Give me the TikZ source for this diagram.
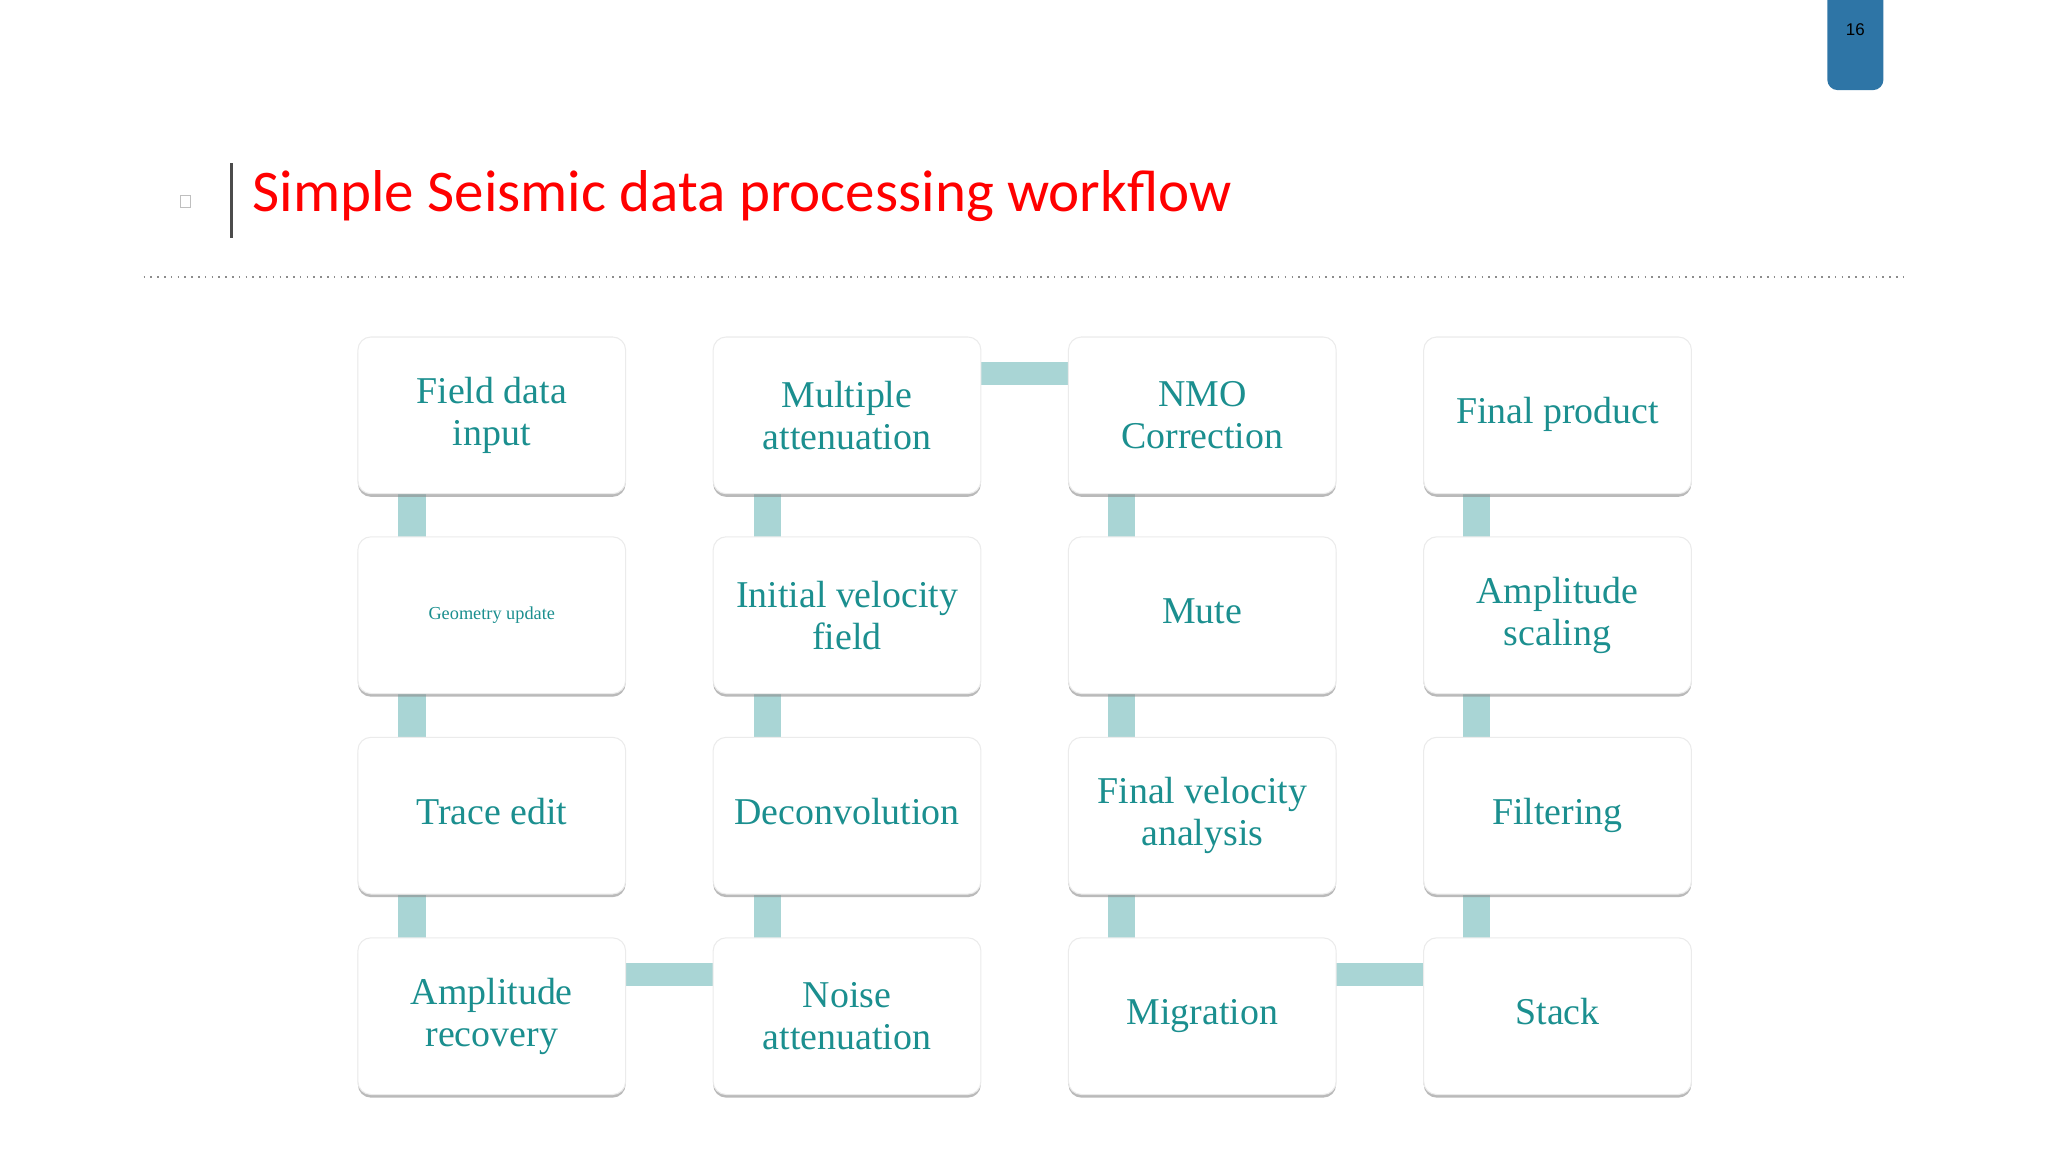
\documentclass[tikz,border=0pt]{standalone}
\usepackage{fontspec}
\setmainfont{Liberation Serif}
\newfontfamily\carl{Carlito}
\newfontfamily\arialf{Liberation Sans}
\usetikzlibrary{shadows}
\definecolor{teal1}{HTML}{1B8F8F}
\definecolor{bar}{HTML}{A9D5D5}
\definecolor{pg}{HTML}{2E75A6}
\begin{document}
\begin{tikzpicture}[x=0.5pt,y=-0.5pt,
 box/.style={draw=black!8,fill=white,rounded corners=5pt,minimum width=102.5pt,minimum height=60pt,
   align=center,text=teal1,font=\fontsize{14.5}{16}\selectfont,
   drop shadow={shadow xshift=0pt,shadow yshift=-1.2pt,fill=black!45,opacity=0.6}},
 vbar/.style={fill=bar,draw=none},
 hbar/.style={fill=bar,draw=none}]
\useasboundingbox (0,0) rectangle (1568,882);
% title area
\fill[pg,rounded corners=4pt] (1399,-10) rectangle (1442,69);
\node[font=\arialf\fontsize{6.5}{7}\selectfont] (pn) at (1420.5,23) {16};
\draw[black!25,line width=0.4pt] (138,150) rectangle (146,159);
\draw[black!70,line width=1.2pt] (177,125) -- (177,182);
\node[anchor=base west,text=red,font=\carl\fontsize{22.6}{25}\selectfont,inner sep=0] (title) at (193,162) {Simple Seismic data processing workflow};
\draw[black!45,dotted,line width=0.6pt] (110,212) -- (1458,212);
% connectors (drawn first)
\foreach \x in {305,577,848,1120}{
  \foreach \y in {378,531,685}{ \fill[vbar] (\x,\y) rectangle (\x+21,\y+33); }}
\fill[hbar] (751,277) rectangle (818,295);
\fill[hbar] (479,737) rectangle (546,755);
\fill[hbar] (1023,737) rectangle (1090,755);
% boxes
\node[box] (a1) at (376.5,318) {Field data\\input};
\node[box,font=\fontsize{7}{8}\selectfont] (a2) at (376.5,471) {Geometry update};
\node[box] (a3) at (376.5,624.5) {Trace edit\strut};
\node[box] (a4) at (376.5,778) {Amplitude\\recovery};
\node[box] (b1) at (648.5,318) {Multiple\\attenuation};
\node[box] (b2) at (648.5,471) {Initial velocity\\field};
\node[box] (b3) at (648.5,624.5) {Deconvolution\strut};
\node[box] (b4) at (648.5,778) {Noise\\attenuation};
\node[box] (c1) at (920.5,318) {NMO\\Correction};
\node[box] (c2) at (920.5,471) {Mute\strut};
\node[box] (c3) at (920.5,624.5) {Final velocity\\analysis};
\node[box] (c4) at (920.5,778) {Migration\strut};
\node[box] (d1) at (1192.5,318) {Final product\strut};
\node[box] (d2) at (1192.5,471) {Amplitude\\scaling};
\node[box] (d3) at (1192.5,624.5) {Filtering\strut};
\node[box] (d4) at (1192.5,778) {Stack\strut};
\end{tikzpicture}
\end{document}
